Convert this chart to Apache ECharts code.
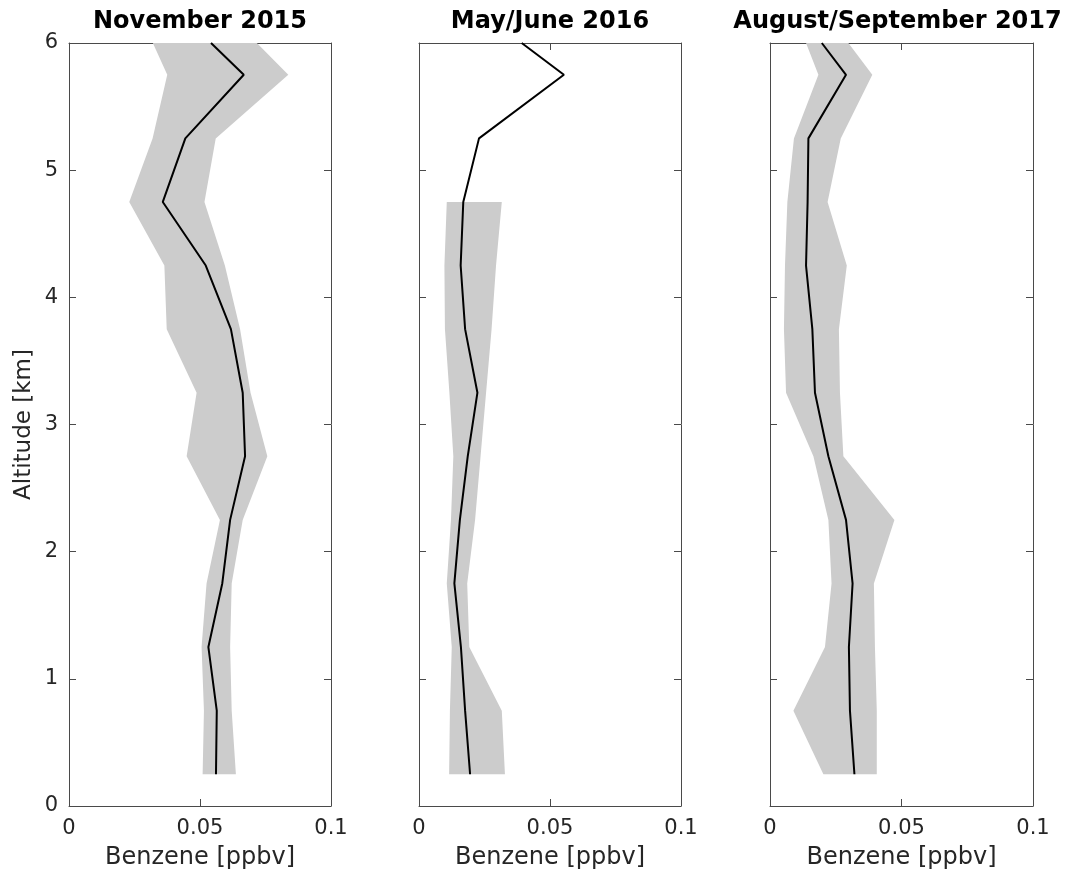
<!DOCTYPE html>
<html>
<head>
<meta charset="utf-8">
<script src="https://cdn.jsdelivr.net/npm/echarts@6/dist/echarts.min.js"></script>
<style>
html,body{margin:0;padding:0;background:#fff;}
#chart{width:1075px;height:876px;}
</style>
</head>
<body>
<div id="chart"></div>
<script>
// Altitude levels [km]
const altitudes = [0.25, 0.75, 1.25, 1.75, 2.25, 2.75, 3.25, 3.75, 4.25, 4.75, 5.25, 5.75, 6.0];
const panelTitles = ['November 2015', 'May/June 2016', 'August/September 2017'];
const xTickLabels = ['0', '0.05', '0.1'];
const yTickLabels = ['0', '1', '2', '3', '4', '5', '6'];

// November 2015
const nov2015Mean = [0.0561, 0.0564, 0.0532, 0.0585, 0.0615, 0.0672, 0.0663, 0.0618, 0.0522, 0.0358, 0.0444, 0.0667, 0.0542];
const nov2015Low  = [0.0510, 0.0515, 0.0506, 0.0525, 0.0576, 0.0449, 0.0487, 0.0373, 0.0364, 0.0230, 0.0319, 0.0375, 0.0320];
const nov2015High = [0.0637, 0.0621, 0.0615, 0.0621, 0.0663, 0.0757, 0.0693, 0.0653, 0.0595, 0.0517, 0.0560, 0.0837, 0.0717];

// May/June 2016 (band only up to 4.75 km)
const may2016Mean = [0.0195, 0.0176, 0.0160, 0.0135, 0.0156, 0.0186, 0.0223, 0.0176, 0.0159, 0.0169, 0.0229, 0.0553, 0.0392];
const may2016Low  = [0.0115, 0.0118, 0.0125, 0.0106, 0.0122, 0.0131, 0.0116, 0.0099, 0.0097, 0.0106];
const may2016High = [0.0328, 0.0316, 0.0192, 0.0184, 0.0214, 0.0235, 0.0256, 0.0277, 0.0294, 0.0316];

// August/September 2017
const aug2017Mean = [0.0321, 0.0304, 0.0300, 0.0314, 0.0289, 0.0222, 0.0171, 0.0161, 0.0137, 0.0143, 0.0146, 0.0289, 0.0197];
const aug2017Low  = [0.0203, 0.0089, 0.0209, 0.0234, 0.0222, 0.0165, 0.0061, 0.0053, 0.0057, 0.0066, 0.0091, 0.0184, 0.0137];
const aug2017High = [0.0406, 0.0406, 0.0399, 0.0395, 0.0473, 0.0279, 0.0266, 0.0262, 0.0292, 0.0219, 0.0269, 0.0389, 0.0298];

const panels = [
  {mean: nov2015Mean, low: nov2015Low, high: nov2015High},
  {mean: may2016Mean, low: may2016Low, high: may2016High},
  {mean: aug2017Mean, low: aug2017Low, high: aug2017High}
];

const FONT = 'DejaVu Sans';
const AXIS_COLOR = '#4a4a4a';
const TEXT_COLOR = '#262626';
const gridLefts = [69, 419, 770];
const gridWidths = [262, 262, 263];
const gridTop = 43, gridHeight = 763;

const grids = [], xAxes = [], yAxes = [], series = [], titles = [];

panels.forEach((p, k) => {
  grids.push({left: gridLefts[k], top: gridTop, width: gridWidths[k], height: gridHeight, containLabel: false});
  const common = {
    type: 'value', gridIndex: k, splitLine: {show: false},
    axisLine: {show: true, onZero: false, lineStyle: {color: AXIS_COLOR, width: 1}},
    axisTick: {show: true, inside: true, length: 7, lineStyle: {color: AXIS_COLOR, width: 1}}
  };
  xAxes.push(Object.assign({}, common, {
    position: 'bottom', min: 0, max: 0.1, interval: 0.05,
    axisLabel: {show: true, margin: 12, fontFamily: FONT, fontSize: 21, color: TEXT_COLOR,
      formatter: v => xTickLabels[Math.round(v / 0.05)]},
    name: 'Benzene [ppbv]', nameLocation: 'middle', nameGap: 40,
    nameTextStyle: {fontFamily: FONT, fontSize: 24, color: TEXT_COLOR}
  }));
  xAxes.push(Object.assign({}, common, {
    position: 'top', min: 0, max: 0.1, interval: 0.05, axisLabel: {show: false}
  }));
  yAxes.push(Object.assign({}, common, {
    position: 'left', min: 0, max: 6, interval: 1,
    axisLabel: {show: k === 0, margin: 11, fontFamily: FONT, fontSize: 21, color: TEXT_COLOR,
      formatter: v => yTickLabels[Math.round(v)]},
    name: k === 0 ? 'Altitude [km]' : '', nameLocation: 'middle', nameGap: 33,
    nameTextStyle: {fontFamily: FONT, fontSize: 23, color: TEXT_COLOR}
  }));
  yAxes.push(Object.assign({}, common, {
    position: 'right', min: 0, max: 6, interval: 1, axisLabel: {show: false}
  }));

  const alts = altitudes;
  series.push({
    type: 'custom', xAxisIndex: 2 * k, yAxisIndex: 2 * k, silent: true, z: 1,
    data: [[0, 0]],
    renderItem: function (params, api) {
      const pts = [];
      for (let i = 0; i < p.low.length; i++) pts.push(api.coord([p.low[i], alts[i]]));
      for (let i = p.high.length - 1; i >= 0; i--) pts.push(api.coord([p.high[i], alts[i]]));
      return {type: 'polygon', shape: {points: pts}, style: {fill: '#cccccc', stroke: null}};
    }
  });
  series.push({
    type: 'line', xAxisIndex: 2 * k, yAxisIndex: 2 * k, z: 3, silent: true,
    data: p.mean.map((v, i) => [v, alts[i]]),
    showSymbol: false, symbol: 'none', animation: false,
    lineStyle: {color: '#000000', width: 2}
  });

  titles.push({
    text: panelTitles[k], left: gridLefts[k] + gridWidths[k] / 2 - (k === 2 ? 4 : 0), top: 10, padding: 0,
    textAlign: 'center',
    textStyle: {fontFamily: FONT, fontSize: 24, fontWeight: 'bold', color: '#000000'}
  });
});

const chart = echarts.init(document.getElementById('chart'), null, {renderer: 'canvas'});
chart.setOption({
  animation: false,
  backgroundColor: '#ffffff',
  title: titles,
  grid: grids,
  xAxis: xAxes,
  yAxis: yAxes,
  series: series
});
</script>
</body>
</html>
